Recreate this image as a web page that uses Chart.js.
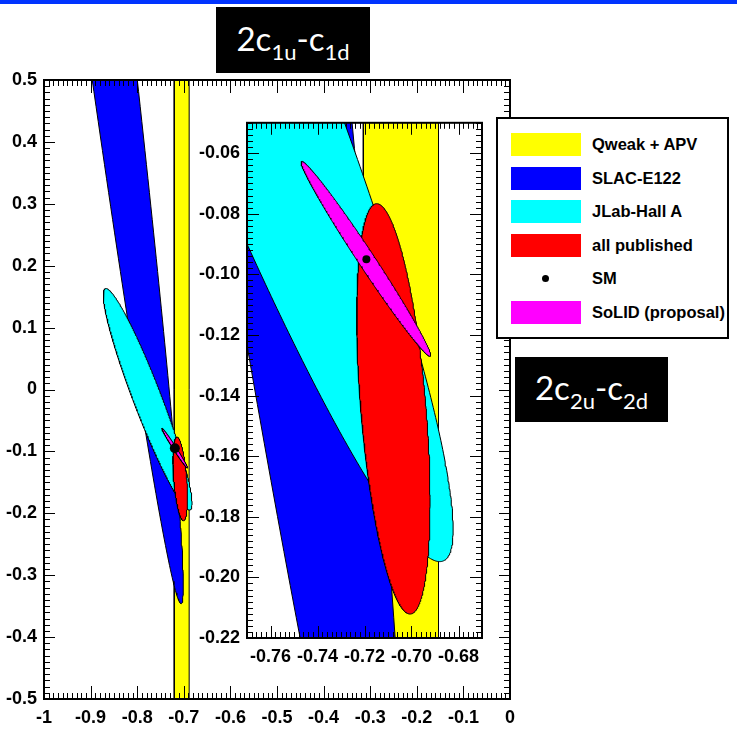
<!DOCTYPE html>
<html>
<head>
<meta charset="utf-8">
<title>2C1u-C1d vs 2C2u-C2d</title>
<script src="https://cdn.jsdelivr.net/npm/chart.js@4.4.1/dist/chart.umd.min.js"></script>
<style>
  html, body { margin: 0; padding: 0; background: #fff; }
  #page { position: relative; width: 737px; height: 744px; overflow: hidden; }
  #topBar { position: absolute; left: 0; top: 0; width: 737px; height: 4px; background: #0033ff; }
  #mainChart { position: absolute; left: 0; top: 0; }
  #insetChart { position: absolute; left: 198px; top: 105px; background: #fff; }
  .tag { position: absolute; background: #000; color: #fff; font-family: Lato, "Open Sans", sans-serif;
         font-size: 33px; display: flex; align-items: center; justify-content: center; }
  .tag span { display: inline-block; line-height: 1; margin-top: -4px; }
  .tag sub { font-size: 22px; vertical-align: -9px; line-height: 0; }
  #tagX { left: 216px; top: 7px; width: 154px; height: 66px; }
  #tagY { left: 515px; top: 357px; width: 153px; height: 65px; }
  #legend { position: absolute; left: 496px; top: 117px; width: 229px; height: 218px; border: 2px solid #000;
            background: #fff; font-family: "Liberation Sans", Arial, sans-serif; font-weight: bold; font-size: 16.5px; }
  .row { position: absolute; left: 0; width: 100%; height: 23px; }
  .swatch { position: absolute; left: 13px; top: 0; width: 70px; height: 23px; }
  .dot { position: absolute; left: 44px; top: 8px; width: 7px; height: 7px; border-radius: 50%; background: #000; }
  .label { position: absolute; left: 94px; top: 0; line-height: 23px; white-space: nowrap; }
</style>
</head>
<body>
<div id="page">
  <div id="topBar"></div>
  <canvas id="mainChart" width="737" height="744"></canvas>
  <canvas id="insetChart" width="296" height="565"></canvas>
  <div class="tag" id="tagX"><span>2c<sub>1u</sub>-c<sub>1d</sub></span></div>
  <div class="tag" id="tagY"><span>2c<sub>2u</sub>-c<sub>2d</sub></span></div>
  <div id="legend"></div>
</div>
<script>
// Qweak + APV allowed range in 2C1u-C1d
const bandLabel = "Qweak + APV";
const bandRange = [-0.7205, -0.6885];

// contours: centre, half height in y, half width along the centre row, dx/dy of the chord centres
const contourLabels = ["SLAC-E122", "JLab-Hall A", "all published", "SoLID (proposal)"];
const centerX = [-1.126, -0.7775, -0.7077, -0.7194];
const centerY = [2.154, -0.0158, -0.1444, -0.0949];
const halfHeight = [2.5, 0.179, 0.0677, 0.0322];
const halfWidth = [0.0645, 0.0325, 0.0139, 0.0042];
const shear = [-0.168, -0.5, -0.104, -0.846];

// Standard Model prediction
const smLabel = "SM";
const smPoint = [-0.7192, -0.0950];

// tick labels
const mainXTicks = [-1, -0.9, -0.8, -0.7, -0.6, -0.5, -0.4, -0.3, -0.2, -0.1, 0];
const mainYTicks = [0.5, 0.4, 0.3, 0.2, 0.1, 0, -0.1, -0.2, -0.3, -0.4, -0.5];
const insetXTicks = [-0.76, -0.74, -0.72, -0.70, -0.68];
const insetYTicks = [-0.06, -0.08, -0.10, -0.12, -0.14, -0.16, -0.18, -0.20, -0.22];

const contourColors = ["#0000ff", "#00ffff", "#ff0000", "#ff00ff"];
const bandColor = "#ffff00";
const tickFont = { family: "'Liberation Sans', Arial, sans-serif", size: 18, weight: "bold" };

function contourOutline(i, n = 480) {
  const pts = [];
  for (let k = 0; k <= n; k++) {
    const t = 2 * Math.PI * k / n;
    const dy = halfHeight[i] * Math.sin(t);
    pts.push({ x: centerX[i] + shear[i] * dy + halfWidth[i] * Math.cos(t), y: centerY[i] + dy });
  }
  return pts;
}

function bandOutline() {
  const [lo, hi] = bandRange;
  return [{ x: lo, y: -1 }, { x: hi, y: -1 }, { x: hi, y: 1 }, { x: lo, y: 1 }, { x: lo, y: -1 }];
}

function makeDatasets(dotRadius) {
  const shape = (label, data, color) => ({
    label, data, showLine: true, fill: "shape", backgroundColor: color,
    borderColor: "#000", borderWidth: 1, pointRadius: 0, clip: 0
  });
  // bottom layer first
  const sets = [shape(bandLabel, bandOutline(), bandColor)];
  contourLabels.forEach((l, i) => sets.push(shape(l, contourOutline(i), contourColors[i])));
  sets.push({
    label: smLabel, data: [{ x: smPoint[0], y: smPoint[1] }],
    pointRadius: dotRadius, backgroundColor: "#000", borderColor: "#000", borderWidth: 0
  });
  sets.forEach((d, i) => { d.order = sets.length - i; });
  return sets;
}

// ROOT-style frame with inward ticks on all four sides
const frameTicks = {
  id: "frameTicks",
  afterDatasetsDraw(chart, args, o) {
    const { ctx, chartArea: a, scales: { x, y } } = chart;
    ctx.save();
    ctx.strokeStyle = "#000";
    ctx.lineWidth = 1;
    ctx.beginPath();
    const isMajor = (list, v) => list.some(m => Math.abs(m - v) < 1e-7);
    for (let k = Math.ceil(x.min / o.xMinor - 1e-6); k * o.xMinor <= x.max + 1e-9; k++) {
      const v = k * o.xMinor;
      const len = isMajor(o.xMajor, v) ? o.xLen : o.minorLen;
      const px = Math.round(x.getPixelForValue(v)) + 0.5;
      ctx.moveTo(px, a.bottom); ctx.lineTo(px, a.bottom - len);
      ctx.moveTo(px, a.top); ctx.lineTo(px, a.top + len);
    }
    for (let k = Math.ceil(y.min / o.yMinor - 1e-6); k * o.yMinor <= y.max + 1e-9; k++) {
      const v = k * o.yMinor;
      const len = isMajor(o.yMajor, v) ? o.yLen : o.minorLen;
      const py = Math.round(y.getPixelForValue(v)) + 0.5;
      ctx.moveTo(a.left, py); ctx.lineTo(a.left + len, py);
      ctx.moveTo(a.right, py); ctx.lineTo(a.right - len, py);
    }
    ctx.stroke();
    ctx.lineWidth = 2;
    ctx.strokeRect(a.left, a.top, a.right - a.left, a.bottom - a.top);
    ctx.restore();
  }
};

function axis(min, max, values, digits, size, padding) {
  return {
    type: "linear", min, max,
    grid: { display: false, drawTicks: false },
    border: { display: false },
    afterBuildTicks: s => { s.ticks = values.map(v => ({ value: v })); },
    afterFit: s => { if (s.isHorizontal()) s.height = size; else s.width = size; },
    ticks: {
      color: "#000", font: tickFont, autoSkip: false, maxRotation: 0, padding,
      callback: v => (digits === 1 ? String(+v.toFixed(1)) : v.toFixed(2))
    }
  };
}

function makeChart(id, cfg) {
  return new Chart(document.getElementById(id), {
    type: "scatter",
    data: { datasets: makeDatasets(cfg.dot) },
    options: {
      responsive: false, animation: false, events: [],
      layout: { padding: cfg.padding },
      plugins: { legend: { display: false }, tooltip: { enabled: false }, frameTicks: cfg.ticks },
      scales: { x: cfg.x, y: cfg.y }
    },
    plugins: [frameTicks]
  });
}

// full range
makeChart("mainChart", {
  dot: 5,
  padding: { top: 80, right: 227, left: 0, bottom: 0 },
  x: axis(-1, 0, mainXTicks, 1, 45, 8),
  y: axis(-0.5, 0.5, mainYTicks, 1, 44, 7),
  ticks: { xMinor: 0.01, yMinor: 0.01, xMajor: mainXTicks, yMajor: mainYTicks, xLen: 13, yLen: 11, minorLen: 6 }
});

// zoom around the SM point
makeChart("insetChart", {
  dot: 4,
  padding: { top: 12, right: 12, left: 0, bottom: 0 },
  x: axis(-0.77, -0.67, insetXTicks, 2, 32, 8),
  y: axis(-0.22, -0.05, insetYTicks, 2, 49, 7),
  ticks: { xMinor: 0.002, yMinor: 0.002, xMajor: insetXTicks, yMajor: insetYTicks, xLen: 12, yLen: 12, minorLen: 6 }
});

// legend, top to bottom
const legendRows = [
  { label: bandLabel, color: bandColor },
  { label: contourLabels[0], color: contourColors[0] },
  { label: contourLabels[1], color: contourColors[1] },
  { label: contourLabels[2], color: contourColors[2] },
  { label: smLabel, dot: true },
  { label: contourLabels[3], color: contourColors[3] }
];
const legend = document.getElementById("legend");
legendRows.forEach((r, i) => {
  const row = document.createElement("div");
  row.className = "row";
  row.style.top = (14 + 33.5 * i) + "px";
  row.innerHTML = (r.dot ? '<div class="dot"></div>' : `<div class="swatch" style="background:${r.color}"></div>`) +
    `<div class="label">${r.label}</div>`;
  legend.appendChild(row);
});
</script>
</body>
</html>
